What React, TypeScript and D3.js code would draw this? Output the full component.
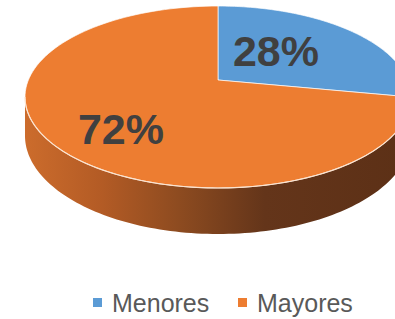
// App.tsx
// 3D pie (Menores / Mayores) drawn with D3 in a perspective projection
import React, { useEffect, useRef } from "react";
import * as d3 from "d3";

const categories = ["Menores", "Mayores"];
const values = [28, 72];
const colors = ["#5b9bd5", "#ed7d31"];

const W = 395, H = 319;

export default function App() {
  const svgRef = useRef<SVGSVGElement>(null);

  useEffect(() => {
    if (!svgRef.current) return;
    const svg = d3.select(svgRef.current);
    svg.selectAll("*").remove();

    // perspective disc: centre of circle, tilt factor, scales
    const cx = 218, cy = 80;
    const c = 0.187;       // foreshortening of near/far halves
    const sx = 189.6, sy = 87.8;
    const depth = 37.4;

    const proj = (t: number, down = 0): [number, number] => {
      const X = Math.sin(t), Z = -Math.cos(t);
      const w = 1 - Z * c;
      return [cx + (sx * X) / w, cy + (sy * Z) / w + (down * depth) / w];
    };
    const rim = (a0: number, a1: number, down = 0) =>
      d3.range(0, 121).map((i) => proj(a0 + ((a1 - a0) * i) / 120, down));

    const arcs = d3.pie<number>().sort(null)(values);
    const line = d3.line();

    const defs = svg.append("defs");
    const grad = defs.append("linearGradient")
      .attr("id", "side")
      .attr("gradientUnits", "userSpaceOnUse")
      .attr("x1", 25).attr("x2", 411).attr("y1", 0).attr("y2", 0);
    [[0, "#cc6c2c"], [0.2, "#b35b25"], [0.4, "#8d4b20"], [0.62, "#64351a"], [1, "#5c3016"]]
      .forEach(([o, col]) => grad.append("stop").attr("offset", o as number).attr("stop-color", col as string));

    // visible side wall (front half, silhouettes at cos t = -c)
    const tR = Math.acos(-c);
    const tL = 2 * Math.PI - tR;
    const top = rim(tR, tL);
    const bot = rim(tL, tR, 1);
    svg.append("path")
      .attr("d", line([...top, ...bot]) + "Z")
      .attr("fill", "url(#side)");

    // top faces
    arcs.forEach((a, i) => {
      const pts: [number, number][] = [[cx, cy], ...rim(a.startAngle, a.endAngle)];
      svg.append("path")
        .attr("d", line(pts) + "Z")
        .attr("fill", colors[i])
        .attr("stroke", "#fff")
        .attr("stroke-opacity", 0.85)
        .attr("stroke-width", 0.8)
        .attr("stroke-linejoin", "round");
    });

    // highlight along front edge
    svg.append("path")
      .attr("d", line(top))
      .attr("fill", "none")
      .attr("stroke", "#fbe3cf")
      .attr("stroke-width", 1.2);

    // percentage labels
    const total = d3.sum(values);
    const labelPos: [number, number][] = [[276, 66], [121, 144]];
    arcs.forEach((a, i) => {
      svg.append("text")
        .attr("x", labelPos[i][0])
        .attr("y", labelPos[i][1])
        .attr("text-anchor", "middle")
        .attr("font-family", "Liberation Sans, Arial, sans-serif")
        .attr("font-weight", "bold")
        .attr("font-size", 43)
        .attr("fill", "#404040")
        .text(`${Math.round((a.value / total) * 100)}%`);
    });

    // legend
    const legendX = [93, 238];
    categories.forEach((name, i) => {
      const g = svg.append("g").attr("transform", `translate(${legendX[i]},0)`);
      g.append("rect").attr("x", 0).attr("y", 298).attr("width", 9).attr("height", 9).attr("fill", colors[i]);
      g.append("text")
        .attr("x", 19)
        .attr("y", 312)
        .attr("font-family", "Liberation Sans, Arial, sans-serif")
        .attr("font-size", 25)
        .attr("fill", "#595959")
        .text(name);
    });
  }, []);

  return (
    <svg
      ref={svgRef}
      width={W}
      height={H}
      style={{ position: "fixed", left: 0, top: 0, background: "#fff" }}
    />
  );
}
